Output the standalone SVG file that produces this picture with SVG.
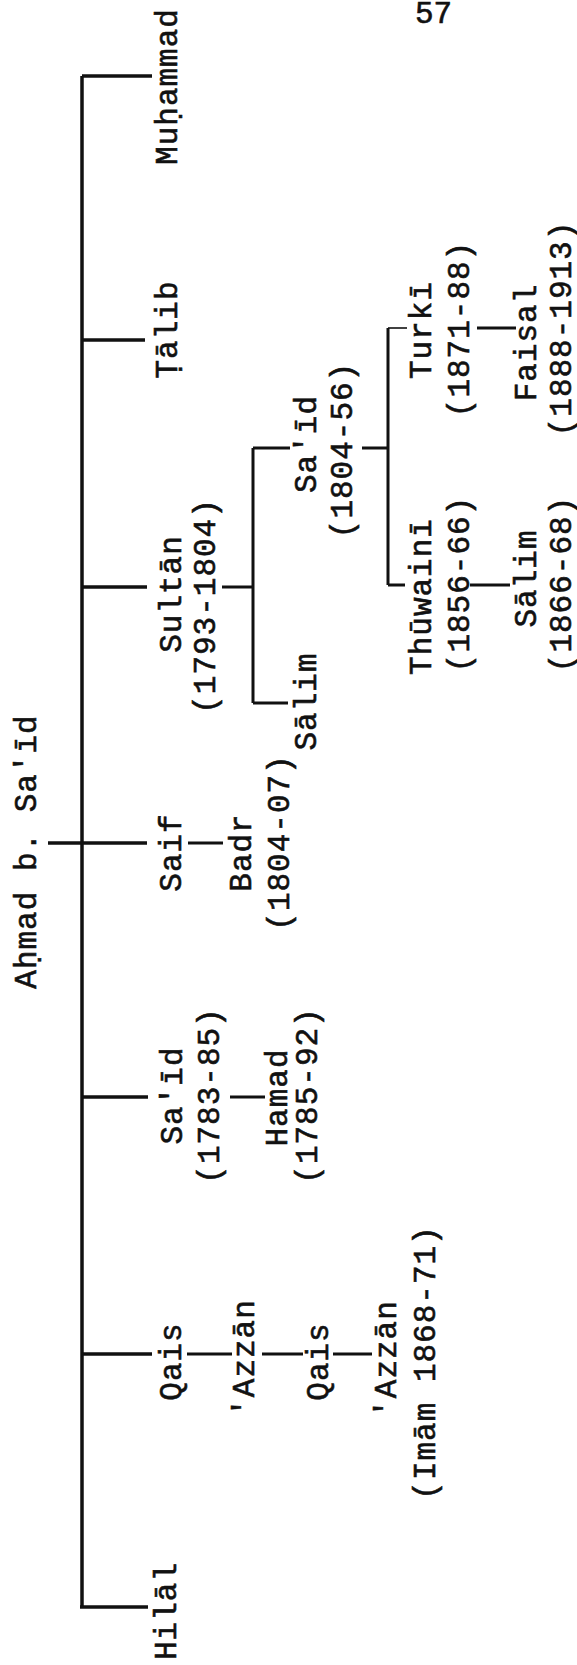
<svg xmlns="http://www.w3.org/2000/svg" width="577" height="1665" viewBox="0 0 577 1665">
<style>
.t{font-family:"Liberation Mono","DejaVu Sans Mono",monospace;font-size:31px;letter-spacing:1px;text-anchor:middle;fill:#111;stroke:#111;stroke-width:0.6}
.pg{font-family:"Liberation Mono","DejaVu Sans Mono",monospace;font-size:31px;fill:#111;stroke:#111;stroke-width:0.6}
.ln{stroke:#111;stroke-width:3.5;fill:none}
.th{stroke:#111;stroke-width:3;fill:none}
.tn{stroke:#111;stroke-width:1.6;fill:none}
</style>
<rect width="577" height="1665" fill="#fff"/>
<g id="page"><text class="pg" x="415" y="23">57</text></g>
<g id="connectors">
<path class="ln" d="M82,76V1607"/>
<path class="ln" d="M82,76H152"/>
<path class="ln" d="M82,340H145"/>
<path class="ln" d="M82,587H147"/>
<path class="ln" d="M48,843H147"/>
<path class="ln" d="M82,1097H148"/>
<path class="ln" d="M82,1354H152"/>
<path class="ln" d="M80,1607H148"/>
<path class="th" d="M222,587H253M253,448V703M253,448H290M253,703H288"/>
<path class="th" d="M188,843H223"/>
<path class="th" d="M230,1097H265"/>
<path class="th" d="M187,1354H232M262,1354H303M333,1354H372"/>
<path class="th" d="M362,448H388M388,328V585M388,585H405"/>
<path class="tn" d="M388,328H407"/>
<path class="th" d="M477,328H516"/>
<path class="th" d="M470,585H510"/>
</g>
<g id="ahmad"><text class="t" transform="translate(36,851.5) rotate(-90)">Aḥmad b. Sa'īd</text></g>
<g id="muhammad"><text class="t" transform="translate(177,86.5) rotate(-90)">Muḥammad</text></g>
<g id="talib"><text class="t" transform="translate(177,329.5) rotate(-90)">Ṭālib</text></g>
<g id="sultan"><text class="t" transform="translate(181,594) rotate(-90)">Sultān</text><text class="t" transform="translate(215,606) rotate(-90)">(1793-1804)</text></g>
<g id="saif"><text class="t" transform="translate(181,852.5) rotate(-90)">Saif</text></g>
<g id="said1"><text class="t" transform="translate(182,1095.5) rotate(-90)">Sa'īd</text><text class="t" transform="translate(219,1095.5) rotate(-90)">(1783-85)</text></g>
<g id="qais1"><text class="t" transform="translate(181,1361.5) rotate(-90)">Qais</text></g>
<g id="hilal"><text class="t" transform="translate(176,1611) rotate(-90)">Hilāl</text></g>
<g id="salim1"><text class="t" transform="translate(316,701.5) rotate(-90)">Sālim</text></g>
<g id="said2"><text class="t" transform="translate(316,444) rotate(-90)">Sa'īd</text><text class="t" transform="translate(352,450) rotate(-90)">(1804-56)</text></g>
<g id="badr"><text class="t" transform="translate(251,852.5) rotate(-90)">Badr</text><text class="t" transform="translate(289,842.5) rotate(-90)">(1804-07)</text></g>
<g id="hamad"><text class="t" transform="translate(287,1097.5) rotate(-90)">Hamad</text><text class="t" transform="translate(317,1095.5) rotate(-90)">(1785-92)</text></g>
<g id="azzan1"><text class="t" transform="translate(254,1358) rotate(-90)">'Azzān</text></g>
<g id="qais2"><text class="t" transform="translate(328,1361.5) rotate(-90)">Qais</text></g>
<g id="azzan2"><text class="t" transform="translate(396,1359) rotate(-90)">'Azzān</text><text class="t" transform="translate(435,1362.5) rotate(-90)">(Imām 1868-71)</text></g>
<g id="turki"><text class="t" transform="translate(431,330) rotate(-90)">Turkī</text><text class="t" transform="translate(469,329) rotate(-90)">(1871-88)</text></g>
<g id="thuwaini"><text class="t" transform="translate(431,596.5) rotate(-90)">Thūwainī</text><text class="t" transform="translate(469,584) rotate(-90)">(1856-66)</text></g>
<g id="faisal"><text class="t" transform="translate(536,342.5) rotate(-90)">Faisal</text><text class="t" transform="translate(571,328.5) rotate(-90)">(1888-1913)</text></g>
<g id="salim2"><text class="t" transform="translate(536,578.5) rotate(-90)">Sālim</text><text class="t" transform="translate(571,584) rotate(-90)">(1866-68)</text></g>
</svg>
